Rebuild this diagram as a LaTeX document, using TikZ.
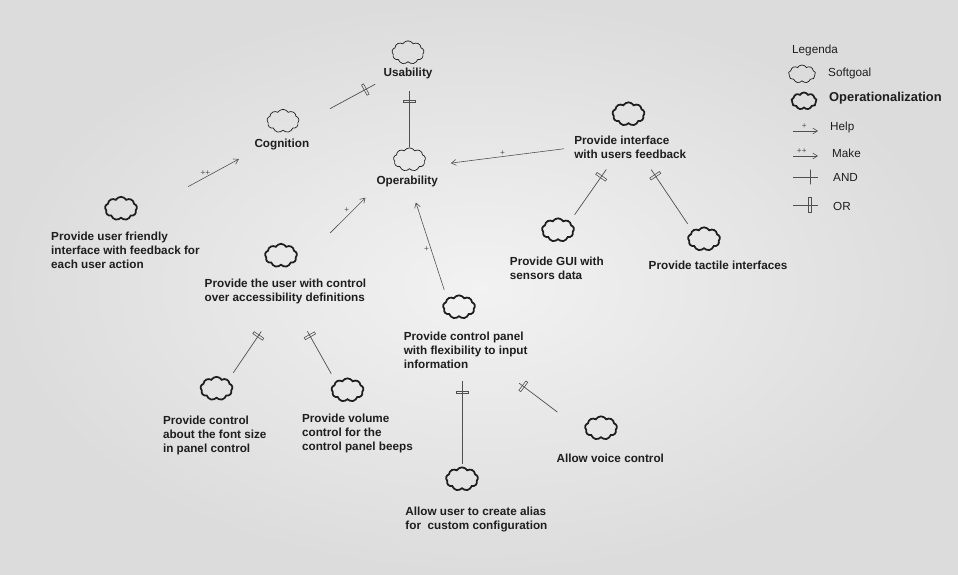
\documentclass[tikz,border=0pt]{standalone}
\usepackage{fontspec}
\setmainfont{Liberation Sans}
\usetikzlibrary{arrows.meta,shapes.symbols,positioning}
\definecolor{ink}{HTML}{1E1E1E}
\definecolor{wire}{HTML}{505050}
\definecolor{paper}{HTML}{E8E8E8}
\definecolor{paperlight}{HTML}{F2F2F2}
\definecolor{paperdark}{HTML}{DCDCDC}
\tikzset{
    soft/.style =   {cloud,
                    cloud puffs=9,
                    cloud puff arc=120,
                    cloud ignores aspect,
                    draw=ink,
                    line width=0.6pt,
                    inner sep=0pt,
                    minimum width=0.96cm,
                    minimum height=0.7cm},
    oper/.style =   {soft,
                    line width=1.5pt},
    goal/.style =   {text=ink,
                    font=\bfseries\fontsize{10}{12}\selectfont,
                    align=left,
                    inner sep=1pt},
    legtext/.style = {text=ink,
                    font=\fontsize{10}{12}\selectfont,
                    inner sep=1pt,
                    anchor=west},
    sign/.style =   {text=wire,
                    font=\fontsize{7}{8}\selectfont,
                    inner sep=0.5pt},
    help/.style =   {draw=wire,
                    line width=0.5pt,
                    -{Straight Barb[length=4pt,width=5pt]}},
    link/.style =   {draw=wire,
                    line width=0.6pt},
    ortick/.style = {draw=wire,
                    sloped,
                    rectangle,
                    line width=0.5pt,
                    inner sep=0pt,
                    minimum width=2pt,
                    minimum height=10pt},
    andtick/.style = {ortick,
                    minimum width=0pt}
}
\begin{document}
\begin{tikzpicture}[x=0.03cm, y=-0.03cm]
\shade[inner color=paperlight, outer color=paperdark] (0,0) rectangle (958,574);
\useasboundingbox (0,0) rectangle (958,574);
% softgoals
\node[soft] (U) at (408,52.5) {};
\node[goal] (Ut) [below=3.8pt of U] {Usability};
\node[soft] (C) at (283,121) {};
\node[goal] (Ct) [below=5.8pt of C, xshift=-1pt] {Cognition};
\node[soft] (O) at (409.5,159.5) {};
\node[goal] (Ot) [below=4.3pt of O, xshift=-2pt] {Operability};
% operationalizations
\node[oper] (F) at (121,208.5) {};
\node[goal] (Ft) [below=10pt of F, xshift=3.8pt] {Provide user friendly\\interface with feedback for\\each user action};
\node[oper] (A) at (281,255.5) {};
\node[goal] (At) [below=10pt of A, xshift=3.8pt] {Provide the user with control\\over accessibility definitions};
\node[oper] (I) at (628.5,114) {};
\node[goal] (It) [below=8.9pt of I, xshift=1.5pt] {Provide interface\\with users feedback};
\node[oper] (G) at (558,230) {};
\node[goal] (Gt) [below=13pt of G, xshift=-1pt] {Provide GUI with\\sensors data};
\node[oper] (T) at (704,239) {};
\node[goal] (Tt) [below=8.8pt of T, xshift=12pt] {Provide tactile interfaces};
\node[oper] (P) at (459,307) {};
\node[goal] (Pt) [below=10.9pt of P, xshift=5.7pt] {Provide control panel\\with flexibility to input\\information};
\node[oper] (S) at (216.5,388.5) {};
\node[goal] (St) [below=13pt of S, xshift=-1.5pt] {Provide control\\about the font size\\in panel control};
\node[oper] (V) at (347.5,390) {};
\node[goal] (Vt) [below=10.3pt of V, xshift=8.5pt] {Provide volume\\control for the\\control panel beeps};
\node[oper] (W) at (601,428) {};
\node[goal] (Wt) [below=11.7pt of W, xshift=7.9pt] {Allow voice control};
\node[oper] (L) at (462,479) {};
\node[goal] (Lt) [below=14pt of L, xshift=12.3pt] {Allow user to create alias\\for\ \ custom configuration};
% decompositions
\path (C.south east) edge[link, shorten <=35.5pt, shorten >=6.7pt] node[ortick, pos=0.81] {} (Ut.south west)
      (O.north) edge[link, shorten >=9.4pt] node[ortick, pos=0.69] {} (O.north |- Ut.south)
      (G.north east) edge[link, shorten <=6.8pt, shorten >=9.5pt] node[ortick, pos=0.73] {} (It.216)
      (T.north west) edge[link, shorten <=6.7pt, shorten >=9.4pt] node[ortick, pos=0.78] {} (It.-41)
      (S.north east) edge[link, shorten <=7.3pt, shorten >=26.9pt] node[ortick, pos=0.59] {} (At.245)
      (V.north west) edge[link, shorten <=7.4pt, shorten >=25.4pt] node[ortick, pos=0.6] {} (At.-62)
      (L.north) edge[link, shorten <=2pt, shorten >=10pt] node[ortick, pos=0.77] {} (L.north |- Pt.south)
      (W.200) edge[link, shorten <=30.4pt, shorten >=19pt] node[ortick, pos=0.74] {} (Pt.-29);
% contributions
\path (F.-30) edge[help, shorten <=52.6pt, shorten >=13.8pt] node[sign, pos=0.6, above=1pt] {++} (Ct.south west)
      (At.north) edge[help, shorten <=53.9pt, shorten >=11.7pt] node[sign, pos=0.72, above left=0pt] {+} (Ot.south west)
      (P.north west) edge[help, shorten <=7.6pt, shorten >=13pt] node[sign, pos=0.45, left=1pt] {+} (Ot.-60)
      (It.west) edge[help, shorten <=7.6pt, shorten >=26.7pt] node[sign, pos=0.46, above=0pt] {+} (O.south east);
% legend
\node[legtext] (leg) at (790.8,50) {Legenda};
\node[soft, minimum width=0.81cm, minimum height=0.54cm] (lsg) at (802,74) {};
\node[legtext] (lsgt) at (826.8,73) {Softgoal};
\node[oper, minimum width=0.75cm, minimum height=0.51cm] (lop) at (804,101) {};
\node[legtext, font=\bfseries\fontsize{11}{13}\selectfont] (lopt) at (827.8,98) {Operationalization};
\coordinate (h1) at (793,131); \coordinate (h2) at (818,131);
\coordinate (m1) at (793,156); \coordinate (m2) at (818,156);
\coordinate (a1) at (793,177); \coordinate (a2) at (818,177);
\coordinate (o1) at (793,205); \coordinate (o2) at (818,205);
\path (h1) edge[help] node[sign, pos=0.45, above=1pt] {+} (h2)
      (m1) edge[help] node[sign, pos=0.35, above=1pt] {++} (m2);
\path (a1) edge[link] node[andtick, pos=0.68, minimum height=12.5pt] {} (a2)
      (o1) edge[link] node[ortick, pos=0.68, minimum height=12.5pt, line width=0.8pt] {} (o2);
\node[legtext] (lhlp) at (828.8,127) {Help};
\node[legtext] (lmk) at (830.8,153) {Make};
\node[legtext] (land) at (831.8,177) {AND};
\node[legtext] (lor) at (831.8,206) {OR};
\end{tikzpicture}
\end{document}
